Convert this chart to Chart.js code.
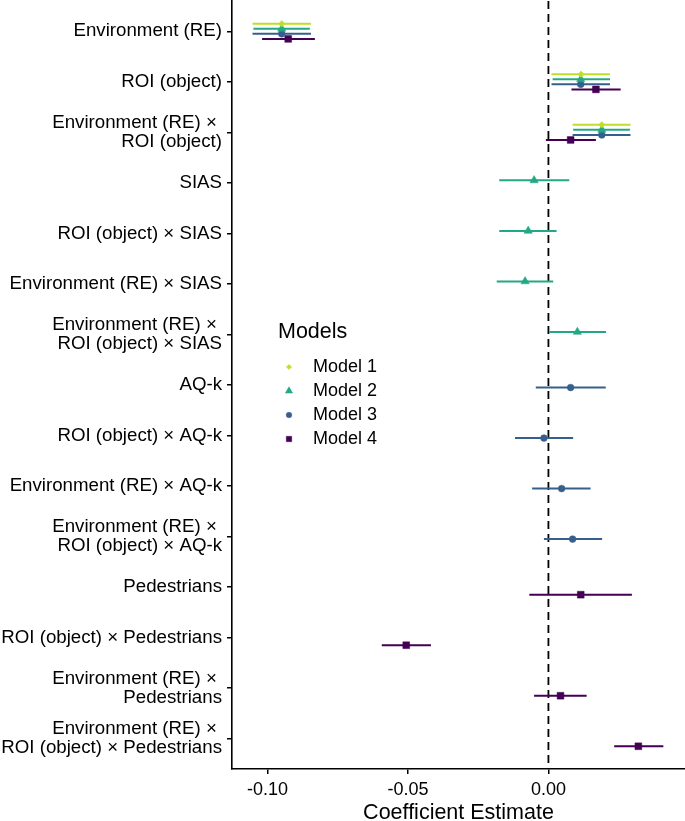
<!DOCTYPE html>
<html>
<head>
<meta charset="utf-8">
<script src="https://cdn.jsdelivr.net/npm/chart.js@4/dist/chart.umd.min.js"></script>
<style>
  html, body { margin: 0; padding: 0; background: #fff; }
  #wrap { width: 685px; height: 821px; position: relative; }
</style>
</head>
<body>
<div id="wrap"><canvas id="coefChart"></canvas></div>
<script>
// coefficient plot - estimates with 95% intervals, four nested models

const categories = [
  'Environment (RE)',
  'ROI (object)',
  ['Environment (RE) \u00d7 ', 'ROI (object)'],
  'SIAS',
  'ROI (object) \u00d7 SIAS',
  'Environment (RE) \u00d7 SIAS',
  ['Environment (RE) \u00d7 ', 'ROI (object) \u00d7 SIAS'],
  'AQ-k',
  'ROI (object) \u00d7 AQ-k',
  'Environment (RE) \u00d7 AQ-k',
  ['Environment (RE) \u00d7 ', 'ROI (object) \u00d7 AQ-k'],
  'Pedestrians',
  'ROI (object) \u00d7 Pedestrians',
  ['Environment (RE) \u00d7 ', 'Pedestrians'],
  ['Environment (RE) \u00d7 ', 'ROI (object) \u00d7 Pedestrians']
];

const modelNames = ['Model 1', 'Model 2', 'Model 3', 'Model 4'];
const xTicks = [-0.10, -0.05, 0.00];

// estimates / lower / upper per model, null where the term is not in the model
const m1Est = [-0.0949, 0.0116, 0.0190, null, null, null, null, null, null, null, null, null, null, null, null];
const m1Lo  = [-0.1053, 0.0011, 0.0086, null, null, null, null, null, null, null, null, null, null, null, null];
const m1Hi  = [-0.0845, 0.0219, 0.0292, null, null, null, null, null, null, null, null, null, null, null, null];

const m2Est = [-0.0949, 0.0115, 0.0190, -0.0051, -0.0072, -0.0083, 0.0103, null, null, null, null, null, null, null, null];
const m2Lo  = [-0.1050, 0.0015, 0.0088, -0.0175, -0.0175, -0.0184, 0.0003, null, null, null, null, null, null, null, null];
const m2Hi  = [-0.0849, 0.0219, 0.0290, 0.0074, 0.0029, 0.0017, 0.0205, null, null, null, null, null, null, null, null];

const m3Est = [-0.0949, 0.0115, 0.0190, null, null, null, null, 0.0079, -0.0016, 0.0047, 0.0086, null, null, null, null];
const m3Lo  = [-0.1053, 0.0011, 0.0086, null, null, null, null, -0.0045, -0.0119, -0.0058, -0.0016, null, null, null, null];
const m3Hi  = [-0.0845, 0.0219, 0.0292, null, null, null, null, 0.0204, 0.0088, 0.0150, 0.0191, null, null, null, null];

const m4Est = [-0.0926, 0.0169, 0.0079, null, null, null, null, null, null, null, null, 0.0115, -0.0506, 0.0043, 0.0320];
const m4Lo  = [-0.1019, 0.0082, -0.0009, null, null, null, null, null, null, null, null, -0.0068, -0.0593, -0.0051, 0.0234];
const m4Hi  = [-0.0831, 0.0257, 0.0169, null, null, null, null, null, null, null, null, 0.0297, -0.0418, 0.0136, 0.0409];

const COLORS = ['#BEDF26', '#22A884', '#375F8C', '#440154'];
const SHAPES = ['rectRot', 'triangle', 'circle', 'rect'];
const RADII = [3.2, 4.8, 3.4, 4.8];
const LEGEND_RADII = [2.6, 4.2, 2.8, 3.8];
const DODGE = [-0.15, -0.05, 0.05, 0.15];
const FONT = "'Liberation Sans', Arial, Helvetica, sans-serif";

function buildPoints(est, lo, hi, k) {
  const pts = [];
  est.forEach((v, i) => {
    if (v === null) return;
    pts.push({ x: v, y: i + DODGE[k], lo: lo[i], hi: hi[i] });
  });
  return pts;
}

const series = [
  buildPoints(m1Est, m1Lo, m1Hi, 0),
  buildPoints(m2Est, m2Lo, m2Hi, 1),
  buildPoints(m3Est, m3Lo, m3Hi, 2),
  buildPoints(m4Est, m4Lo, m4Hi, 3)
];

// zero line + horizontal intervals, drawn under the point markers
const intervalPlugin = {
  id: 'intervals',
  beforeDatasetsDraw(chart) {
    const { ctx, chartArea, scales: { x, y } } = chart;
    ctx.save();
    ctx.beginPath();
    ctx.rect(chartArea.left, chartArea.top, chartArea.right - chartArea.left, chartArea.bottom - chartArea.top);
    ctx.clip();

    const x0 = x.getPixelForValue(0);
    ctx.strokeStyle = '#000';
    ctx.lineWidth = 1.8;
    ctx.setLineDash([8, 5]);
    ctx.beginPath();
    ctx.moveTo(x0, chartArea.top);
    ctx.lineTo(x0, chartArea.bottom);
    ctx.stroke();
    ctx.setLineDash([]);

    chart.data.datasets.forEach((ds) => {
      ctx.strokeStyle = ds.borderColor;
      ctx.lineWidth = 2;
      ds.data.forEach((p) => {
        const py = y.getPixelForValue(p.y);
        ctx.beginPath();
        ctx.moveTo(x.getPixelForValue(p.lo), py);
        ctx.lineTo(x.getPixelForValue(p.hi), py);
        ctx.stroke();
      });
    });
    ctx.restore();
  }
};

// legend placed inside the panel like the original
const legendPlugin = {
  id: 'insideLegend',
  afterDraw(chart) {
    const { ctx } = chart;
    ctx.save();
    ctx.fillStyle = '#000';
    ctx.textBaseline = 'middle';
    ctx.textAlign = 'left';
    ctx.font = '21.5px ' + FONT;
    ctx.fillText('Models', 278, 332);
    ctx.font = '18px ' + FONT;
    chart.data.datasets.forEach((ds, i) => {
      const yy = 367 + i * 24;
      ctx.fillStyle = ds.backgroundColor;
      ctx.strokeStyle = ds.backgroundColor;
      ctx.lineWidth = 0.5;
      Chart.helpers.drawPoint(ctx, { pointStyle: ds.pointStyle, radius: LEGEND_RADII[i], rotation: 0, borderWidth: 0.5 }, 289, yy);
      ctx.fillStyle = '#000';
      ctx.fillText(ds.label, 313, yy);
    });
    ctx.restore();
  }
};

new Chart(document.getElementById('coefChart'), {
  type: 'scatter',
  data: {
    datasets: series.map((pts, k) => ({
      label: modelNames[k],
      data: pts,
      backgroundColor: COLORS[k],
      borderColor: COLORS[k],
      pointStyle: SHAPES[k],
      pointRadius: RADII[k],
      pointBorderWidth: 0.5,
      pointBorderColor: COLORS[k],
      pointBackgroundColor: COLORS[k]
    }))
  },
  plugins: [intervalPlugin, legendPlugin],
  options: {
    responsive: true,
    maintainAspectRatio: false,
    animation: false,
    layout: { autoPadding: false, padding: { top: 1, right: 0, left: 0, bottom: 0 } },
    plugins: {
      legend: { display: false },
      tooltip: { enabled: false }
    },
    scales: {
      x: {
        type: 'linear',
        min: -0.1126,
        max: 0.0486,
        afterBuildTicks: (scale) => { scale.ticks = xTicks.map(v => ({ value: v })); },
        afterFit: (scale) => {
          scale.height = 52;
          scale.paddingLeft = 0;
          scale.paddingRight = 0;
        },
        grid: { drawOnChartArea: false, drawTicks: true, tickLength: 5, color: '#000', lineWidth: 1.5 },
        border: { display: true, color: '#000', width: 1.6 },
        ticks: {
          color: '#000',
          padding: 5,
          font: { family: FONT, size: 18 },
          callback: (v) => Number(v).toFixed(2)
        },
        title: {
          display: true,
          text: 'Coefficient Estimate',
          color: '#000',
          font: { family: FONT, size: 21.5, lineHeight: 0.7 },
          padding: { top: 0, bottom: 0 }
        }
      },
      y: {
        type: 'linear',
        reverse: true,
        min: -0.6,
        max: 14.6,
        afterBuildTicks: (scale) => { scale.ticks = categories.map((c, i) => ({ value: i })); },
        afterFit: (scale) => {
          scale.width = 232;
          scale.paddingTop = 0;
          scale.paddingBottom = 0;
        },
        grid: { drawOnChartArea: false, drawTicks: true, tickLength: 5, color: '#000', lineWidth: 1.5 },
        border: { display: true, color: '#000', width: 1.6 },
        ticks: {
          color: '#000',
          padding: 5,
          autoSkip: false,
          font: { family: FONT, size: 18.7, lineHeight: 1.02 },
          callback: (v) => categories[v]
        }
      }
    }
  }
});
</script>
</body>
</html>
